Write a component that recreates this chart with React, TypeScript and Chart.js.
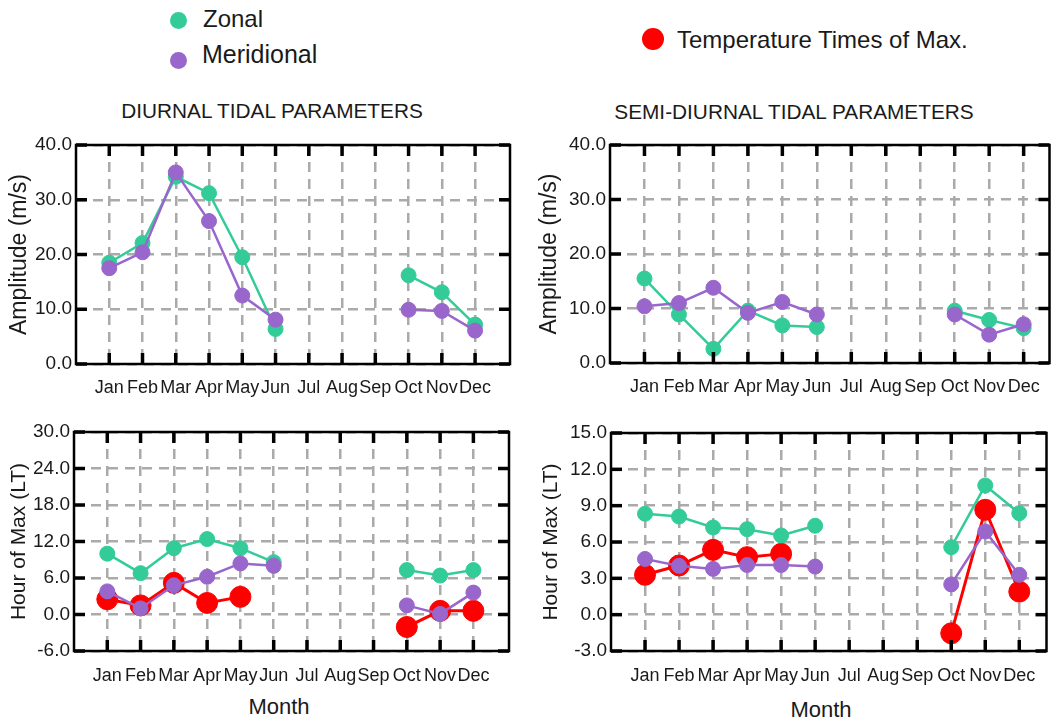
import React, { useEffect, useRef } from "react";
import { Chart, registerables } from "chart.js";

Chart.register(...registerables);

const months = ["Jan", "Feb", "Mar", "Apr", "May", "Jun", "Jul", "Aug", "Sep", "Oct", "Nov", "Dec"];

const diurnalAmpZonal = [18.5, 22.1, 34.2, 31.2, 19.5, 6.4, null, null, null, 16.2, 13.1, 7.2];
const diurnalAmpMerid = [17.5, 20.4, 35.0, 26.1, 12.5, 8.1, null, null, null, 9.9, 9.7, 6.1];
const semiAmpZonal = [15.5, 8.9, 2.6, 9.6, 6.9, 6.6, null, null, null, 9.6, 7.9, 6.4];
const semiAmpMerid = [10.4, 11.0, 13.8, 9.2, 11.2, 8.9, null, null, null, 8.9, 5.2, 7.1];
const diurnalHourZonal = [10.0, 6.8, 10.9, 12.4, 10.9, 8.6, null, null, null, 7.3, 6.4, 7.3];
const diurnalHourMerid = [3.8, 1.0, 4.8, 6.2, 8.4, 8.0, null, null, null, 1.5, 0.1, 3.6];
const diurnalHourTemp = [2.5, 1.5, 5.2, 1.9, 2.9, null, null, null, null, -2.05, 0.6, 0.6];
const semiHourZonal = [8.33, 8.1, 7.2, 7.06, 6.54, 7.34, null, null, null, 5.57, 10.67, 8.38];
const semiHourMerid = [4.6, 4.03, 3.78, 4.1, 4.1, 3.97, null, null, null, 2.5, 6.87, 3.29];
const semiHourTemp = [3.29, 4.06, 5.35, 4.75, 5.02, null, null, null, null, -1.54, 8.66, 1.9];

const ampTicks = { min: 0, max: 40, step: 10 };
const diurnalHourTicks = { min: -6, max: 30, step: 6 };
const semiHourTicks = { min: -3, max: 15, step: 3 };

const GREEN = "#33cc99";
const PURPLE = "#9966cc";
const RED = "#ff0000";
const FONT = "'Liberation Sans', Arial, sans-serif";
const TEXT = "#1a1a1a";

const toPoints = (arr: (number | null)[]) => arr.map((v, i) => ({ x: i + 1, y: v }));

const framePlugin = {
  id: "frame",
  afterDraw(chart: any) {
    const { ctx, chartArea, scales } = chart;
    const { left, right, top, bottom } = chartArea;
    const x = scales.x;
    const y = scales.y;
    ctx.save();
    ctx.strokeStyle = "#000";
    ctx.lineWidth = 3.5;
    ctx.setLineDash([]);
    const seg = (x1: number, y1: number, x2: number, y2: number) => {
      ctx.beginPath();
      ctx.moveTo(x1, y1);
      ctx.lineTo(x2, y2);
      ctx.stroke();
    };
    x.ticks.forEach((t: any) => {
      const px = x.getPixelForValue(t.value);
      seg(px, top, px, top + 11);
      seg(px, bottom, px, bottom - 11);
    });
    y.ticks.forEach((t: any) => {
      const py = y.getPixelForValue(t.value);
      seg(left, py, left + 11, py);
      seg(right, py, right - 11, py);
    });
    ctx.lineWidth = 2.5;
    ctx.strokeRect(left, top, right - left, bottom - top);
    ctx.restore();
  },
};

type PanelProps = {
  left: number;
  top: number;
  width: number;
  height: number;
  padTop: number;
  padRight: number;
  yWidth: number;
  xHeight: number;
  xMax: number;
  xPad: number;
  yTitle: string;
  yTitlePad: number;
  yTitleSize: number;
  ticks: { min: number; max: number; step: number };
  zonal: (number | null)[];
  merid: (number | null)[];
  temp?: (number | null)[];
};

function Panel(p: PanelProps) {
  const ref = useRef<HTMLCanvasElement | null>(null);
  useEffect(() => {
    if (!ref.current) return;
    const datasets: any[] = [
      {
        label: "Meridional",
        data: toPoints(p.merid),
        borderColor: PURPLE,
        backgroundColor: PURPLE,
        pointBackgroundColor: PURPLE,
        pointBorderColor: PURPLE,
        borderWidth: 2.5,
        pointRadius: 7.5,
        pointBorderWidth: 1,
        spanGaps: false,
      },
      {
        label: "Zonal",
        data: toPoints(p.zonal),
        borderColor: GREEN,
        backgroundColor: GREEN,
        pointBackgroundColor: GREEN,
        pointBorderColor: GREEN,
        borderWidth: 2.5,
        pointRadius: 7.5,
        pointBorderWidth: 1,
        spanGaps: false,
      },
    ];
    if (p.temp) {
      datasets.push({
        label: "Temperature Times of Max.",
        data: toPoints(p.temp),
        borderColor: RED,
        backgroundColor: RED,
        pointBackgroundColor: RED,
        pointBorderColor: RED,
        borderWidth: 3,
        pointRadius: 10.5,
        pointBorderWidth: 1,
        spanGaps: false,
      });
    }
    const chart = new Chart(ref.current, {
      type: "line",
      data: { datasets },
      plugins: [framePlugin],
      options: {
        responsive: false,
        animation: false,
        devicePixelRatio: 1,
        layout: { padding: { top: p.padTop, right: p.padRight, left: 0, bottom: 0 } },
        plugins: { legend: { display: false }, tooltip: { enabled: false } },
        scales: {
          x: {
            type: "linear",
            min: 0,
            max: p.xMax,
            afterBuildTicks: (scale: any) => {
              scale.ticks = months.map((_, i) => ({ value: i + 1 }));
            },
            afterFit: (scale: any) => {
              scale.height = p.xHeight;
            },
            grid: { color: "#aaaaaa", lineWidth: 2.5, drawTicks: false },
            border: { display: false, dash: [10, 7] },
            ticks: {
              autoSkip: false,
              maxRotation: 0,
              minRotation: 0,
              padding: p.xPad,
              color: TEXT,
              font: { family: FONT, size: 18 },
              callback: (v: any) => months[Number(v) - 1] ?? "",
            },
          },
          y: {
            type: "linear",
            min: p.ticks.min,
            max: p.ticks.max,
            afterFit: (scale: any) => {
              scale.width = p.yWidth;
            },
            grid: { color: "#aaaaaa", lineWidth: 2.5, drawTicks: false },
            border: { display: false, dash: [10, 7] },
            ticks: {
              stepSize: p.ticks.step,
              padding: 4,
              color: TEXT,
              font: { family: FONT, size: 19 },
              callback: (v: any) => Number(v).toFixed(1),
            },
            title: {
              display: true,
              text: p.yTitle,
              color: TEXT,
              padding: { top: p.yTitlePad, bottom: 0 },
              font: { family: FONT, size: p.yTitleSize },
            },
          },
        },
      } as any,
    });
    return () => chart.destroy();
  }, []);
  return (
    <canvas
      ref={ref}
      width={p.width}
      height={p.height}
      style={{ position: "absolute", left: p.left, top: p.top, width: p.width, height: p.height }}
    />
  );
}

const Label = ({ x, y, size, children }: { x: number; y: number; size: number; children: any }) => (
  <div
    style={{
      position: "absolute",
      left: x,
      top: y,
      transform: "translate(-50%, -50%)",
      fontFamily: FONT,
      fontSize: size,
      lineHeight: 1,
      whiteSpace: "nowrap",
      color: TEXT,
    }}
  >
    {children}
  </div>
);

const LeftLabel = ({ x, y, size, children }: { x: number; y: number; size: number; children: any }) => (
  <div
    style={{
      position: "absolute",
      left: x,
      top: y,
      transform: "translate(0, -50%)",
      fontFamily: FONT,
      fontSize: size,
      lineHeight: 1,
      whiteSpace: "nowrap",
      color: TEXT,
    }}
  >
    {children}
  </div>
);

const Dot = ({ x, y, r, color }: { x: number; y: number; r: number; color: string }) => (
  <div
    style={{
      position: "absolute",
      left: x - r,
      top: y - r,
      width: 2 * r,
      height: 2 * r,
      borderRadius: "50%",
      background: color,
    }}
  />
);

export default function App() {
  return (
    <div
      style={{
        position: "absolute",
        left: 0,
        top: 0,
        width: 1058,
        height: 721,
        background: "#ffffff",
        overflow: "hidden",
      }}
    >
      <Dot x={178} y={20} r={8.5} color={GREEN} />
      <LeftLabel x={203} y={19} size={24}>Zonal</LeftLabel>
      <Dot x={178} y={60} r={8.5} color={PURPLE} />
      <LeftLabel x={202} y={54} size={25}>Meridional</LeftLabel>
      <Dot x={653} y={39} r={11} color={RED} />
      <LeftLabel x={677} y={40} size={24}>Temperature Times of Max.</LeftLabel>

      <Label x={272} y={111} size={20.8}>DIURNAL TIDAL PARAMETERS</Label>
      <Label x={794} y={112} size={20.8}>SEMI-DIURNAL TIDAL PARAMETERS</Label>

      <Panel
        left={0} top={125} width={530} height={285}
        padTop={20} padRight={20} yWidth={76} xHeight={46} xMax={13.05} xPad={13}
        yTitle="Amplitude (m/s)" yTitlePad={6} yTitleSize={23}
        ticks={ampTicks} zonal={diurnalAmpZonal} merid={diurnalAmpMerid}
      />
      <Panel
        left={530} top={125} width={528} height={285}
        padTop={20} padRight={7} yWidth={80} xHeight={47} xMax={12.75} xPad={13}
        yTitle="Amplitude (m/s)" yTitlePad={6} yTitleSize={23}
        ticks={ampTicks} zonal={semiAmpZonal} merid={semiAmpMerid}
      />
      <Panel
        left={0} top={415} width={530} height={275}
        padTop={17} padRight={21} yWidth={74} xHeight={39} xMax={13.07} xPad={14}
        yTitle="Hour of Max (LT)" yTitlePad={7} yTitleSize={21}
        ticks={diurnalHourTicks} zonal={diurnalHourZonal} merid={diurnalHourMerid} temp={diurnalHourTemp}
      />
      <Panel
        left={530} top={415} width={528} height={275}
        padTop={18} padRight={8} yWidth={81} xHeight={39} xMax={12.8} xPad={14}
        yTitle="Hour of Max (LT)" yTitlePad={9} yTitleSize={21}
        ticks={semiHourTicks} zonal={semiHourZonal} merid={semiHourMerid} temp={semiHourTemp}
      />

      <Label x={279} y={707} size={22}>Month</Label>
      <Label x={821} y={710} size={22}>Month</Label>
    </div>
  );
}
